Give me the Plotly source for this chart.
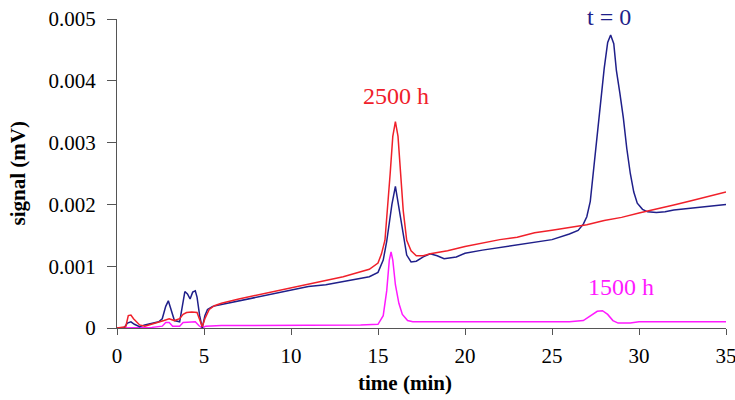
import plotly.graph_objects as go

# ---- data ----
t0_time = [0, 0.4, 0.6, 0.8, 1.0, 1.3, 1.6, 2.0, 2.4, 2.6, 2.8, 2.95, 3.1, 3.3, 3.6, 3.8, 3.9, 4.05, 4.2,
           4.35, 4.5, 4.6, 4.75, 4.9, 5.05, 5.2, 5.5, 6, 7, 8, 9, 10, 11, 12, 13, 14, 14.5, 15, 15.3, 15.5,
           15.65, 15.8, 16.0, 16.2, 16.36, 16.5, 16.65, 16.9, 17.2, 17.6, 18.0, 18.4, 18.8, 19.5, 20, 21, 22,
           23, 24, 25, 26, 26.5, 26.8, 27.0, 27.2, 27.4, 27.6, 27.8, 28.0, 28.2, 28.37, 28.55, 28.7, 28.9,
           29.1, 29.3, 29.5, 29.7, 29.9, 30.2, 30.5, 31, 31.5, 32, 33, 34, 35]
t0_signal = [0, 0, 0.00008, 0.0001, 0.00006, 0.00002, 0.00005, 0.00008, 0.0001, 0.00015, 0.00035, 0.00044,
             0.0003, 0.00012, 0.0001, 0.00045, 0.00059, 0.00055, 0.00047, 0.00058, 0.0006, 0.0005, 0.0002,
             0.0, 0.0002, 0.0003, 0.00035, 0.00038, 0.00044, 0.0005, 0.00055, 0.00061, 0.00067, 0.0007,
             0.00075, 0.0008, 0.00083, 0.0009, 0.0011, 0.0014, 0.0017, 0.002, 0.00229, 0.00196, 0.0017,
             0.0014, 0.00118, 0.00107, 0.00108, 0.00115, 0.0012, 0.00117, 0.00112, 0.00115, 0.00121,
             0.00126, 0.0013, 0.00134, 0.00139, 0.00143, 0.00152, 0.00158, 0.00168, 0.0018, 0.00205, 0.0026,
             0.0032, 0.0037, 0.0042, 0.00462, 0.00474, 0.0046, 0.00417, 0.0038, 0.0034, 0.0029, 0.0025,
             0.0022, 0.00202, 0.00192, 0.00188, 0.00187, 0.00188, 0.00191, 0.00194, 0.00197, 0.002]

h2500_time = [0, 0.5, 0.65, 0.8, 0.95, 1.1, 1.3, 1.6, 2.0, 2.4, 2.7, 3.0, 3.3, 3.6, 3.8, 4.0, 4.3, 4.6, 4.8,
              4.9, 5.05, 5.3, 5.6, 6, 7, 8, 9, 10, 11, 12, 13, 14, 14.5, 15, 15.2, 15.4, 15.55, 15.7, 15.85,
              16.0, 16.15, 16.3, 16.45, 16.65, 16.9, 17.2, 17.6, 18, 19, 20, 21, 22, 23, 24, 25, 26, 27, 28,
              29, 30, 31, 32, 33, 34, 35]
h2500_signal = [0, 0.00002, 0.0002, 0.00021, 0.00015, 0.0001, 0.00005, 0.00003, 0.00006, 0.0001, 0.00012,
                0.00015, 0.00012, 0.00015, 0.00022, 0.00025, 0.00026, 0.00025, 0.0001, 0.00002, 0.00015,
                0.0003, 0.00036, 0.0004, 0.00047, 0.00053, 0.0006, 0.00066, 0.00071, 0.00077, 0.00083,
                0.00091, 0.00095, 0.00105, 0.0012, 0.00142, 0.0019, 0.0025, 0.0031, 0.00334, 0.0031, 0.0025,
                0.0019, 0.00142, 0.00125, 0.00117, 0.00117, 0.0012, 0.00125, 0.00132, 0.00138, 0.00143,
                0.00147, 0.00154, 0.00158, 0.00162, 0.00167, 0.00174, 0.00179, 0.00186, 0.00192, 0.00199,
                0.00206, 0.00213, 0.0022]

h1500_time = [0, 1.0, 2.0, 2.6, 2.8, 3.0, 3.2, 3.6, 3.8, 4.5, 4.7, 4.9, 5.1, 6, 8, 10, 12, 14, 15, 15.3,
              15.5, 15.65, 15.75, 15.85, 16.0, 16.2, 16.4, 16.7, 17.0, 18, 20, 22, 24, 26, 26.8, 27.2, 27.6,
              27.9, 28.2, 28.5, 28.8, 29.5, 30, 31, 32, 33, 34, 35]
h1500_signal = [0, 0, 0.00001, 0.00003, 0.00009, 0.00009, 0.00003, 0.00003, 0.00009, 0.0001, 0.00004, 0.0,
                0.00003, 0.00004, 0.00004, 0.00004, 0.00004, 0.00005, 0.00006, 0.0002, 0.0006, 0.0011,
                0.00123, 0.0011, 0.0007, 0.0004, 0.00022, 0.00012, 0.0001, 0.0001, 0.00009, 0.0001, 0.0001,
                0.0001, 0.00012, 0.0002, 0.00027, 0.00028, 0.00022, 0.00012, 0.00008, 0.00008, 0.0001,
                0.0001, 0.0001, 0.00011, 0.00011, 0.0001]

x_ticks = [0, 5, 10, 15, 20, 25, 30, 35]
y_ticks = [0, 0.001, 0.002, 0.003, 0.004, 0.005]
y_tick_labels = ["0", "0.001", "0.002", "0.003", "0.004", "0.005"]

series_labels = ["t = 0", "2500 h", "1500 h"]
label_pos = [(28.3, 0.0049), (16.03, 0.00376), (28.95, 0.00066)]
label_shift = [8, 0, 0]

NAVY = "#1f1f8a"
RED = "#f0202a"
MAGENTA = "#ff1aff"
FONT = "Liberation Serif"

fig = go.Figure()
fig.add_trace(go.Scatter(x=h1500_time, y=h1500_signal, mode="lines",
                         line=dict(color=MAGENTA, width=1.5), name="1500 h"))
fig.add_trace(go.Scatter(x=t0_time, y=t0_signal, mode="lines",
                         line=dict(color=NAVY, width=1.5), name="t = 0"))
fig.add_trace(go.Scatter(x=h2500_time, y=h2500_signal, mode="lines",
                         line=dict(color=RED, width=1.5), name="2500 h"))

for text, (lx, ly), ys, col in zip(series_labels, label_pos, label_shift, [NAVY, RED, MAGENTA]):
    fig.add_annotation(x=lx, y=ly, yshift=ys, text=text, showarrow=False, xref="x", yref="y",
                       font=dict(family=FONT, size=24, color=col))

# axis titles placed as annotations for precise positioning
fig.add_annotation(xref="paper", yref="paper", x=(405 - 117) / 609, y=(328 - 383) / 309,
                   text="<b>time (min)</b>", showarrow=False, xanchor="center", yanchor="middle",
                   font=dict(family=FONT, size=21, color="black"))
fig.add_annotation(xref="paper", yref="paper", x=(17 - 117) / 609, y=0.5,
                   text="<b>signal (mV)</b>", showarrow=False, xanchor="center", yanchor="middle",
                   textangle=-90, font=dict(family=FONT, size=21, color="black"))

fig.update_layout(
    width=735, height=400,
    margin=dict(l=117, r=9, t=19, b=72, autoexpand=False),
    paper_bgcolor="white", plot_bgcolor="white",
    showlegend=False,
    font=dict(family=FONT, size=21, color="black"),
)
fig.update_xaxes(range=[0, 35], tickvals=x_ticks, ticktext=[str(v) for v in x_ticks],
                 showgrid=False, zeroline=False, showline=True, linecolor="#555555", linewidth=1.2,
                 ticks="outside", ticklen=6, tickcolor="#555555", ticklabelstandoff=3,
                 ticklabeloverflow="allow", automargin=False)
fig.update_yaxes(range=[0, 0.005], tickvals=y_ticks, ticktext=y_tick_labels,
                 showgrid=False, zeroline=False, showline=True, linecolor="#555555", linewidth=1.2,
                 ticks="outside", ticklen=9, tickcolor="#555555", ticklabelstandoff=7,
                 automargin=False)

fig.write_html("out.html")
